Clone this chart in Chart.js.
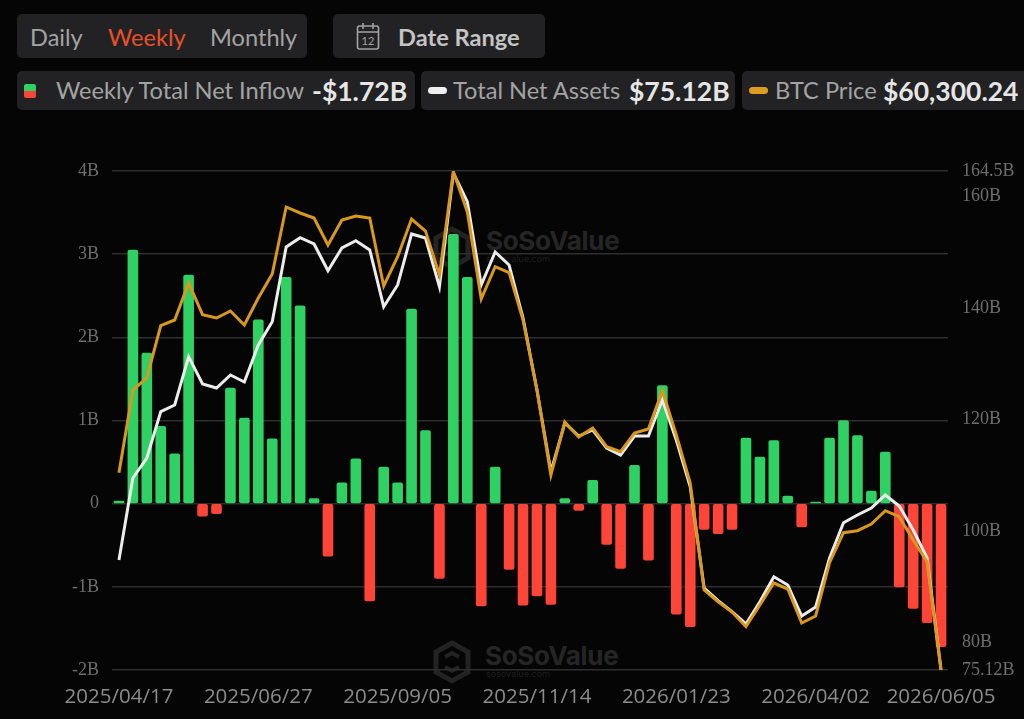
<!DOCTYPE html>
<html><head><meta charset="utf-8">
<script src="https://cdn.jsdelivr.net/npm/chart.js@4"></script>
<style>
html,body{margin:0;padding:0;background:#050505;width:1024px;height:719px;overflow:hidden}
body{position:relative;font-family:Lato,sans-serif;filter:blur(.45px)}
.box{position:absolute;background:#222224;border-radius:5px}
.t{position:absolute;white-space:nowrap;line-height:30px;font-size:23.6px;color:#a3a3a3}
.b{font-weight:700;color:#e6e6e6;font-size:26.5px}
.wm{position:absolute;color:#252525;font:700 26px/30px Inter,sans-serif;letter-spacing:-.3px;white-space:nowrap}
.wms{position:absolute;color:#1e1e1e;font:9px/10px Inter,sans-serif;white-space:nowrap}
canvas{position:absolute;left:0;top:0}
svg{position:absolute}
</style></head><body>
<div class="box" style="left:17px;top:14px;width:290px;height:44px"></div>
<div class="box" style="left:333px;top:14px;width:212px;height:44px"></div>
<div class="box" style="left:17px;top:71px;width:398px;height:39px"></div>
<div class="box" style="left:421px;top:71px;width:314px;height:39px"></div>
<div class="box" style="left:742px;top:71px;width:290px;height:39px"></div>
<div class="t" style="left:30px;top:22px">Daily</div>
<div class="t" style="left:108px;top:22px;color:#e8502a">Weekly</div>
<div class="t" style="left:210px;top:22px">Monthly</div>
<svg style="left:356px;top:22px" width="24" height="28" viewBox="0 0 24 28" fill="none" stroke="#a3a3a3" stroke-width="1.6"><rect x="1.5" y="4" width="21" height="23" rx="2"/><path d="M1.5 10h21M7 1v6M17 1v6"/><text x="12" y="23" font-size="11" font-family="Lato" fill="#a3a3a3" stroke="none" text-anchor="middle">12</text></svg>
<div class="t b" style="left:398px;top:22px;color:#c4c4c4;font-size:23.6px">Date Range</div>
<div style="position:absolute;left:24px;top:84px;width:12px;height:7px;background:#2fd162;border-radius:2px 2px 0 0"></div>
<div style="position:absolute;left:24px;top:91px;width:12px;height:7px;background:#ff4438;border-radius:0 0 2px 2px"></div>
<div class="t" style="left:56px;top:75px">Weekly Total Net Inflow</div>
<div class="t b" style="left:312px;top:76px">-$1.72B</div>
<div style="position:absolute;left:428px;top:87px;width:19px;height:7px;background:#efefef;border-radius:4px"></div>
<div class="t" style="left:453px;top:75px">Total Net Assets</div>
<div class="t b" style="left:629px;top:76px">$75.12B</div>
<div style="position:absolute;left:749px;top:87px;width:19px;height:7px;background:#dc9c1e;border-radius:4px"></div>
<div class="t" style="left:775px;top:75px">BTC Price</div>
<div class="t b" style="left:883px;top:76px">$60,300.24</div>

<svg style="left:433px;top:226px" width="38" height="44" viewBox="0 0 38 44" fill="none" stroke="#232323" stroke-width="5"><path d="M19 3 35 12V32L19 41 3 32V12Z"/><path d="M12 17 19 13 26 17M12 27 19 31 26 27" stroke-width="4"/></svg>
<div class="wm" style="left:486px;top:226px">SoSoValue</div>
<div class="wms" style="left:486px;top:254px">sosovalue.com</div>
<svg style="left:433px;top:640px" width="38" height="44" viewBox="0 0 38 44" fill="none" stroke="#232323" stroke-width="5"><path d="M19 3 35 12V32L19 41 3 32V12Z"/><path d="M12 17 19 13 26 17M12 27 19 31 26 27" stroke-width="4"/></svg>
<div class="wm" style="left:485px;top:641px">SoSoValue</div>
<div class="wms" style="left:486px;top:669px">sosovalue.com</div>
<canvas id="c" width="1024" height="719" style="width:1024px;height:719px"></canvas>
<script>
const dates=["2025/04/17","2025/04/25","2025/05/02","2025/05/09","2025/05/16","2025/05/23","2025/05/30","2025/06/06","2025/06/13","2025/06/20","2025/06/27","2025/07/03","2025/07/11","2025/07/18","2025/07/25","2025/08/01","2025/08/08","2025/08/15","2025/08/22","2025/08/29","2025/09/05","2025/09/12","2025/09/19","2025/09/26","2025/10/03","2025/10/10","2025/10/17","2025/10/24","2025/10/31","2025/11/07","2025/11/14","2025/11/21","2025/11/28","2025/12/05","2025/12/12","2025/12/19","2025/12/26","2026/01/02","2026/01/09","2026/01/16","2026/01/23","2026/01/30","2026/02/06","2026/02/13","2026/02/20","2026/02/27","2026/03/06","2026/03/13","2026/03/20","2026/03/27","2026/04/02","2026/04/10","2026/04/17","2026/04/24","2026/05/01","2026/05/08","2026/05/15","2026/05/22","2026/05/29","2026/06/05"];
const netInflow=[0.03,3.05,1.81,0.93,0.60,2.75,-0.15,-0.12,1.39,1.03,2.21,0.78,2.72,2.38,0.06,-0.63,0.25,0.54,-1.17,0.44,0.25,2.34,0.88,-0.90,3.24,2.72,-1.23,0.44,-0.79,-1.22,-1.11,-1.21,0.06,-0.08,0.28,-0.49,-0.78,0.46,-0.68,1.42,-1.33,-1.48,-0.31,-0.36,-0.31,0.79,0.56,0.76,0.09,-0.28,0.02,0.79,1.00,0.82,0.15,0.62,-1.00,-1.26,-1.43,-1.72];
const totalNetAssets=[94.82,109.51,113.09,121.39,122.59,131.24,126.35,125.63,127.96,126.71,133.33,137.51,150.89,152.55,151.43,146.64,150.71,152.02,150.35,140.19,144.08,153.22,152.5,143.78,164.14,159.0,144.08,149.99,147.66,138.17,125.27,110.64,119.36,117.03,118.11,114.88,113.63,117.03,117.03,123.48,116.32,107.95,89.81,87.53,85.56,83.36,87.35,91.83,90.35,84.79,86.4,95.18,101.5,102.88,104.14,106.47,104.5,100.2,95.18,75.12];
const btcPrice=[85763,96437,97986,104735,105471,110246,106155,105729,106633,104826,108310,111408,120055,119280,118635,115151,118377,118893,118635,109859,113640,118506,116957,111279,124611,119448,108181,112350,111575,105471,96437,85467,92307,90371,91533,89119,88474,90887,91403,96346,90629,84434,70625,69115,67785,65888,68689,71528,70754,66366,67269,74148,78020,78278,79143,80859,80085,77078,74277,60300];
const rightTicks=[75.12,80,100,120,140,160,164.5];
const leftTicks=[-2,-1,0,1,2,3,4];
const shownDateIdx=[0,10,20,30,40,50,59];

const serif='"Liberation Serif",serif';
new Chart(document.getElementById('c'),{
  data:{labels:dates,datasets:[
    {type:'line',label:'BTC Price',data:btcPrice,yAxisID:'yBtc',borderColor:'#d8981e',borderWidth:3,pointRadius:0,tension:0,order:0},
    {type:'line',label:'Total Net Assets',data:totalNetAssets,yAxisID:'yAssets',borderColor:'#ececec',borderWidth:3,pointRadius:0,tension:0,order:1},
    {type:'bar',label:'Weekly Total Net Inflow',data:netInflow,yAxisID:'yFlow',barThickness:10,borderRadius:2,borderSkipped:false,
     backgroundColor:c=>c.raw>=0?'#2fd162':'#ff4438',order:2}
  ]},
  options:{
    responsive:false,animation:false,devicePixelRatio:1,
    layout:{padding:{top:171,left:0,right:0,bottom:0}},
    plugins:{legend:{display:false},tooltip:{enabled:false}},
    scales:{
      x:{type:'category',offset:true,grid:{display:false},border:{display:false},
        afterFit(s){s.height=49},
        ticks:{autoSkip:false,maxRotation:0,minRotation:0,padding:7,color:'#8c8c8c',font:{family:'"Open Sans",sans-serif',size:20.5},
          callback(v,i){return shownDateIdx.includes(i)?dates[i]:''}}},
      yFlow:{position:'left',min:-2,max:4,
        afterFit(s){s.width=112},
        afterBuildTicks(s){s.ticks=leftTicks.map(v=>({value:v}))},
        grid:{color:'#2e2e2e',lineWidth:1.5,drawTicks:false},border:{display:false},
        ticks:{padding:13,color:'#6e6e6e',font:{family:serif,size:18},callback:v=>v===0?'0':v+'B'}},
      yAssets:{position:'right',min:75.12,max:164.5,
        afterFit(s){s.width=76},
        afterBuildTicks(s){s.ticks=rightTicks.map(v=>({value:v}))},
        grid:{display:false,drawTicks:false},border:{display:false},
        ticks:{autoSkip:false,padding:14,color:'#6e6e6e',font:{family:serif,size:18},callback:v=>v+'B'}},
      yBtc:{display:false,min:60300,max:124700}
    }
  }
});
</script>
</body></html>
